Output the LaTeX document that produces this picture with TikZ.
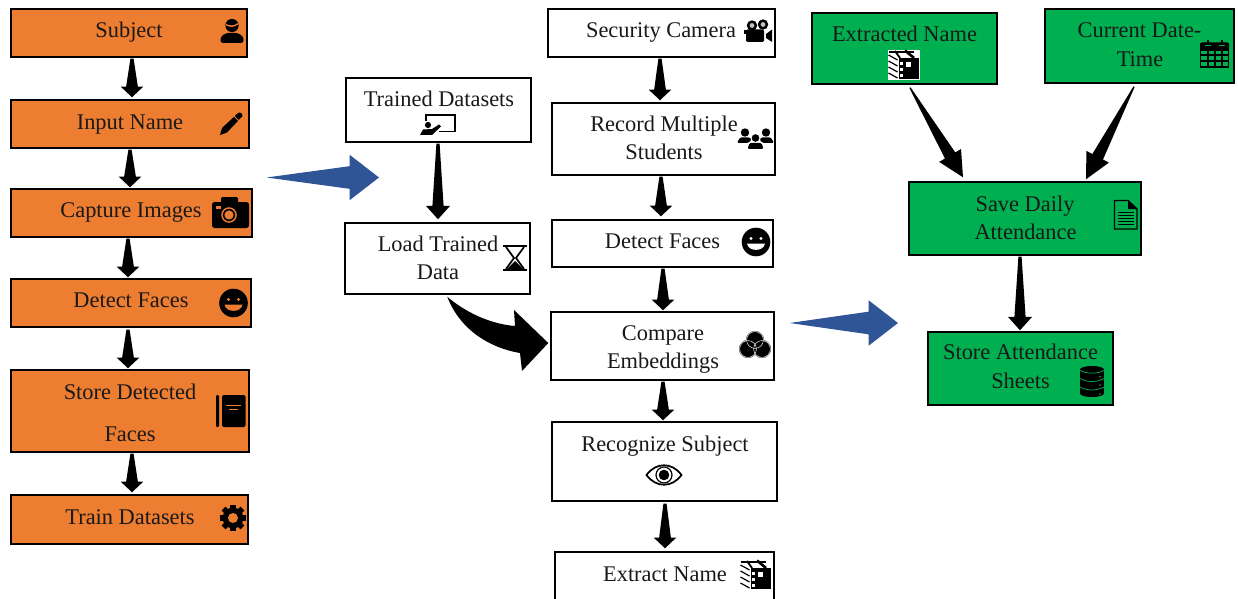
\documentclass[tikz,border=0pt]{standalone}
\usepackage{fontspec}
\setmainfont{Liberation Serif}
\usetikzlibrary{calc}
\definecolor{orbox}{HTML}{ED7D31}
\definecolor{grbox}{HTML}{00B050}
\definecolor{blarrow}{HTML}{2F5597}
\tikzset{
  boxbase/.style={draw=black,line width=1.1pt,inner sep=0pt,rectangle},
  orbx/.style={boxbase,fill=orbox},
  wtbx/.style={boxbase,fill=white},
  grbx/.style={boxbase,fill=grbox},
  lab/.style={anchor=base,inner sep=0pt,font=\fontsize{16.8}{20}\selectfont,text=black!90,yshift=-0.6pt},
  taper/.style n args={4}{draw=none,to path={
    let \p1=(\tikztostart),\p2=(\tikztotarget),\n1={atan2(\y2-\y1,\x2-\x1)} in
    ($(\p1)+(\n1+90:#4)$) -- ($(\p2)+(\n1+180:#1)+(\n1+90:#3)$) -- ($(\p2)+(\n1+180:#1)+(\n1+90:#2)$)
    -- (\p2) -- ($(\p2)+(\n1+180:#1)+(\n1-90:#2)$) -- ($(\p2)+(\n1+180:#1)+(\n1-90:#3)$)
    -- ($(\p1)+(\n1-90:#4)$) -- cycle}},
  stem/.style={fill=black,taper={8pt}{8.5pt}{4.4pt}{1.2pt}},
  stemlong/.style={fill=black,taper={10pt}{9pt}{4.2pt}{1.2pt}},
  diagstem/.style={fill=black,taper={19pt}{9.5pt}{4.5pt}{0.5pt}},
  bigblue/.style={fill=blarrow,taper={22pt}{17pt}{8.5pt}{0.05pt}},
}
% box from pixel corners
\newcommand\bx[6]{\node[#2,minimum width={(#5-#3)*0.75pt},minimum height={(#6-#4)*0.75pt}] (#1) at ({(#3+#5)/2},{(#4+#6)/2}) {};}
\newcommand\tx[4]{\node[lab] (#1) at (#2,#3) {#4};}
% icons
\newcommand\icPerson[3]{\begin{scope}[shift={(#1,#2)}]
  \fill (0,-5.5) circle (6.6);
  \fill[#3] (-6,-7) .. controls (-2,-5) and (2,-5) .. (6,-8) -- (6,-6.5) .. controls (2,-3.5) and (-2,-3.5) .. (-6,-5.5) -- cycle;
  \fill[rounded corners=2] (-11.5,12) -- (-11.5,6) -- (-6,2) -- (6,2) -- (11.5,6) -- (11.5,12) -- cycle;
\end{scope}}
\newcommand\icPencil[2]{\begin{scope}[shift={(#1,#2)}]
  \fill (-11,11) -- (-9,4) -- (6,-10) -- (8,-11.5) .. controls (10,-12) and (12,-10) .. (11.5,-8) -- (-4,8.5) -- cycle;
  \draw[orbox,line width=.6pt] (3,-8) -- (8,-3);
\end{scope}}
\newcommand\icCamera[3]{\begin{scope}[shift={(#1,#2)}]
  \fill[rounded corners=2] (-18,-10) rectangle (19,16);
  \fill[rounded corners=1] (-9,-15) rectangle (8,-8);
  \fill[#3] (-1,3) circle (7.8);
  \fill (-1,3) circle (6.2);
  \fill[#3] (-1,3) circle (4.6);
  \fill[#3] (-14,-6) rectangle (-9,-3);
\end{scope}}
\newcommand\icSmile[3]{\begin{scope}[shift={(#1,#2)}]
  \fill (0,0) circle (14.3);
  \fill[#3] (-5,-3.5) circle (1.7);
  \fill[#3] (5,-3.5) circle (1.7);
  \fill[#3] (-9,1.5) -- (9,1.5) .. controls (8,10) and (-8,10) .. (-9,1.5) -- cycle;
\end{scope}}
\newcommand\icBook[3]{\begin{scope}[shift={(#1,#2)}]
  \fill[rounded corners=.8] (0,0) rectangle (3,32);
  \fill[rounded corners=1.5] (6,0) rectangle (29.5,32);
  \fill[#3] (10,9.5) rectangle (25,11);
  \fill[#3] (13,14) rectangle (22,15.2);
\end{scope}}
\newcommand\icGear[3]{\begin{scope}[shift={(#1,#2)}]
  \foreach \a in {0,45,...,315} \fill[rotate=\a] (-2.7,-13.3) rectangle (2.7,0);
  \fill (0,0) circle (10.4);
  \fill[#3] (0,0) circle (5);
\end{scope}}
\newcommand\icBoard[2]{\begin{scope}[shift={(#1,#2)}]
  \draw[line width=1.1pt] (6,6) -- (6,0) -- (35,0) -- (35,16.5) -- (19,16.5);
  \fill (8,10) circle (3.1);
  \fill (0,20) -- (3,14.5) -- (12,14) -- (19,9.5) -- (21,11.5) -- (13,19) -- (12,20) -- cycle;
\end{scope}}
\newcommand\icHour[2]{\begin{scope}[shift={(#1,#2)}]
  \fill (0,0) rectangle (24,2.4);
  \fill (0,24) rectangle (24,26.4);
  \draw[line width=1.3pt] (3,2) -- (11,13) -- (3,24);
  \draw[line width=1.3pt] (21,2) -- (13,13) -- (21,24);
  \fill (12,16) -- (4,24) -- (20,24) -- cycle;
\end{scope}}
\newcommand\icFilm[2]{\begin{scope}[shift={(#1,#2)}]
  \fill (8,6.5) circle (5.2);
  \fill (19,5.5) circle (5.2);
  \fill[black!25] (8,6.5) circle (2.4);
  \fill[black!25] (19,5.5) circle (2.4);
  \fill[rounded corners=1] (2,10.5) rectangle (20,23);
  \fill (0,11.5) rectangle (3,15);
  \fill (22,15) -- (28,10.5) -- (28,23) -- (22,19) -- cycle;
\end{scope}}
\newcommand\icGroup[2]{\begin{scope}[shift={(#1,#2)}]
  \fill (8,4.5) circle (4.2);
  \fill (29,4.5) circle (4.2);
  \fill (18.5,10) circle (3.8);
  \fill[rounded corners=1] (0,15) -- (3,9.5) -- (13,9.5) -- (14.5,12) -- (11,15) -- cycle;
  \fill[rounded corners=1] (37,15) -- (34,9.5) -- (24,9.5) -- (22.5,12) -- (26,15) -- cycle;
  \fill[rounded corners=1] (10.5,21) -- (12.5,15) -- (24.5,15) -- (26.5,21) -- cycle;
\end{scope}}
\newcommand\icVenn[2]{\begin{scope}[shift={(#1,#2)}]
  \fill (0,-5) circle (9);
  \fill (-7,4) circle (9);
  \fill (7,4) circle (9);
  \draw[white,line width=.35pt] (0,-5) circle (8.4);
  \draw[white,line width=.35pt] (-7,4) circle (8.4);
  \draw[white,line width=.35pt] (7,4) circle (8.4);
\end{scope}}
\newcommand\icEye[2]{\begin{scope}[shift={(#1,#2)}]
  \draw[line width=1.3pt] (-17.5,0) .. controls (-8,-13) and (8,-13) .. (17.5,0) .. controls (8,13) and (-8,13) .. (-17.5,0) -- cycle;
  \draw[line width=.9pt] (0,0) circle (8);
  \fill (0,0) circle (5.3);
\end{scope}}
\newcommand\icCrate[3]{\begin{scope}[shift={(#1,#2)}]
  \fill[#3] (0,0) rectangle (32,30);
  \fill (11,8) rectangle (31,29);
  \draw[line width=1.4pt] (7,1) -- (12,8);
  \draw[line width=2pt] (17,0.5) -- (26,8);
  \draw[line width=.8pt] (1,2) -- (26,2);
  \foreach \v in {5,11,17,23} \draw[line width=.9pt] (0.5,\v) -- (9.5,\v+5);
  \fill[white] (18,12) rectangle (23,17);
  \foreach \v in {12,18,24} \fill[white] (11.5,\v) rectangle (14.5,\v+3);
\end{scope}}
\newcommand\icCal[3]{\begin{scope}[shift={(#1,#2)}]
  \fill[rounded corners=1] (0,2.5) rectangle (29,10);
  \draw[line width=1.1pt] (0.6,10) rectangle (28.4,27);
  \draw[line width=.9pt] (0.6,15) -- (28.4,15) (0.6,21) -- (28.4,21) (8,10) -- (8,27) (15,10) -- (15,27) (22,10) -- (22,27);
  \fill (7,0) rectangle (9,4.5);
  \fill (21,0) rectangle (23,4.5);
  \fill[#3] (5,5) rectangle (11,6.5);
  \fill[#3] (19,5) rectangle (25,6.5);
\end{scope}}
\newcommand\icDoc[2]{\begin{scope}[shift={(#1,#2)}]
  \draw[line width=1.1pt] (0.5,0.5) -- (14,0.5) -- (23,9) -- (23,29) -- (0.5,29) -- cycle;
  \fill (14,0.5) -- (23,9) -- (14,9) -- cycle;
  \foreach \v in {12,15,18,21,24} \draw[line width=.7pt] (4,\v) -- (19.5,\v);
\end{scope}}
\newcommand\icDb[3]{\begin{scope}[shift={(#1,#2)}]
  \fill (0,3.5) circle [x radius=12,y radius=3.5];
  \fill (-12,3.5) rectangle (12,27.5);
  \fill (0,27.5) circle [x radius=12,y radius=3.5];
  \draw[#3,line width=.55pt] (-12,4.5) .. controls (-5,8) and (5,8) .. (12,4.5);
  \draw[#3,line width=.55pt] (-12,12.5) .. controls (-5,16.5) and (5,16.5) .. (12,12.5);
  \draw[#3,line width=.55pt] (-12,21) .. controls (-5,25) and (5,25) .. (12,21);
  \foreach \v in {10.5,19,28} \fill[#3] (8,\v) circle (.8);
\end{scope}}
\begin{document}
\begin{tikzpicture}[x=0.75pt,y=-0.75pt]
\clip (0,0) rectangle (1238,599);
\fill[white] (0,0) rectangle (1238,599);
% left column
\bx{subj}{orbx}{11}{9}{247}{57}
\bx{input}{orbx}{11}{100}{249}{148}
\bx{capt}{orbx}{11}{189}{252}{237}
\bx{detl}{orbx}{11}{279}{251}{327}
\bx{stor}{orbx}{11}{370}{249}{452}
\bx{train}{orbx}{11}{495}{248}{544}
\tx{tsubj}{129}{37}{Subject}
\tx{tinput}{130}{129}{Input Name}
\tx{tcapt}{131}{217}{Capture Images}
\tx{tdetl}{131}{307}{Detect Faces}
\tx{tstora}{130}{399}{Store Detected}
\tx{tstorb}{130}{441}{Faces}
\tx{ttrain}{130}{524}{Train Datasets}
% middle-left
\bx{trained}{wtbx}{346}{78}{531}{142}
\bx{load}{wtbx}{345}{223}{530}{294}
\tx{ttrained}{439}{106}{Trained Datasets}
\tx{tloada}{438}{251}{Load Trained}
\tx{tloadb}{438}{279}{Data}
% middle column
\bx{sec}{wtbx}{548}{9}{775}{57}
\bx{rec}{wtbx}{552}{103}{775}{175}
\bx{detm}{wtbx}{552}{220}{773}{267}
\bx{comp}{wtbx}{551}{312}{774}{380}
\bx{recog}{wtbx}{552}{422}{777}{501}
\bx{extr}{wtbx}{555}{552}{774}{612}
\tx{tsec}{661}{37}{Security Camera}
\tx{treca}{664}{131}{Record Multiple}
\tx{trecb}{664}{159}{Students}
\tx{tdetm}{662.5}{248}{Detect Faces}
\tx{tcompa}{663}{340}{Compare}
\tx{tcompb}{663}{368}{Embeddings}
\tx{trecog}{665}{451}{Recognize Subject}
\tx{textr}{665}{581}{Extract Name}
% right
\bx{exd}{grbx}{812}{13}{997}{84}
\bx{cur}{grbx}{1045}{9}{1234}{83}
\bx{save}{grbx}{909}{182}{1141}{255}
\bx{sheet}{grbx}{928}{332}{1113}{405}
\tx{texd}{904.5}{41}{Extracted Name}
\tx{tcura}{1139.5}{37}{Current Date-}
\tx{tcurb}{1140}{66}{Time}
\tx{tsavea}{1025}{211}{Save Daily}
\tx{tsaveb}{1025.5}{239}{Attendance}
\tx{tsheeta}{1020.5}{359}{Store Attendance}
\tx{tsheetb}{1020.5}{388}{Sheets}
% connectors
\path[stem] ([shift={(3,1)}]subj.south) to ([shift={(2,-2)}]input.north);
\path[stem] ([shift={(0,1)}]input.south) to ([shift={(-1.5,-1)}]capt.north);
\path[stem] ([shift={(-3.5,1)}]capt.south) to ([shift={(-3,-1)}]detl.north);
\path[stem] ([shift={(-3,2)}]detl.south) to ([shift={(-2,-1)}]stor.north);
\path[stem] ([shift={(2,1)}]stor.south) to ([shift={(2.5,-2)}]train.north);
\path[stemlong] ([shift={(-0.5,1)}]trained.south) to ([shift={(0.5,-3)}]load.north);
\path[stem] ([shift={(-1.5,1)}]sec.south) to ([shift={(-3.5,-2)}]rec.north);
\path[stem] ([shift={(-2.5,1)}]rec.south) to ([shift={(-1.5,-3)}]detm.north);
\path[stem] ([shift={(0.5,1)}]detm.south) to ([shift={(0.5,-1)}]comp.north);
\path[stem] ([shift={(0.5,1)}]comp.south) to ([shift={(-1.5,-1)}]recog.north);
\path[stem] ([shift={(0.5,2)}]recog.south) to ([shift={(0.5,-3)}]extr.north);
\path[diagstem] ([shift={(5.5,3)}]exd.south) to ([shift={(-62,-4)}]save.north);
\path[diagstem] ([shift={(-5.5,3)}]cur.south) to ([shift={(61,-2)}]save.north);
\path[stemlong] ([shift={(-5,1)}]save.south) to ([shift={(-0.5,-1)}]sheet.north);
% curved arrow
\coordinate (ctail) at ([shift={(103,2)}]load.south west);
\coordinate (ctip) at ([shift={(-2,-3)}]comp.west);
\fill (ctail) .. controls (465,312) and (490,324) .. (515,326) -- (514,310) -- (ctip) -- (522,371) -- (520,353) .. controls (490,348) and (460,330) .. (ctail) -- cycle;
% blue arrows
\coordinate (ba) at (267,177.5);
\coordinate (bb) at (379,177.5);
\coordinate (bc) at (790,323);
\coordinate (bd) at (898,323);
\path[bigblue] (ba) to (bb);
\path[bigblue] (bc) to (bd);
% icons
\icPerson{232}{31}{orbox}
\icPencil{231}{124}
\icCamera{230}{212}{orbox}
\icSmile{233.5}{303}{orbox}
\icBook{216}{395}{orbox}
\icGear{233}{518}{orbox}
\icBoard{420}{115}
\icHour{503}{245}
\icFilm{744}{19}
\icGroup{737}{128}
\icVenn{755}{345}
\icEye{664}{475}
\icCrate{740}{560}{white}
\icCrate{888}{50}{white}
\icCal{1200}{40}{grbox}
\icDoc{1114}{200}
\icDb{1092}{366}{grbox}
\icSmile{756}{242}{white}
\end{tikzpicture}
\end{document}
